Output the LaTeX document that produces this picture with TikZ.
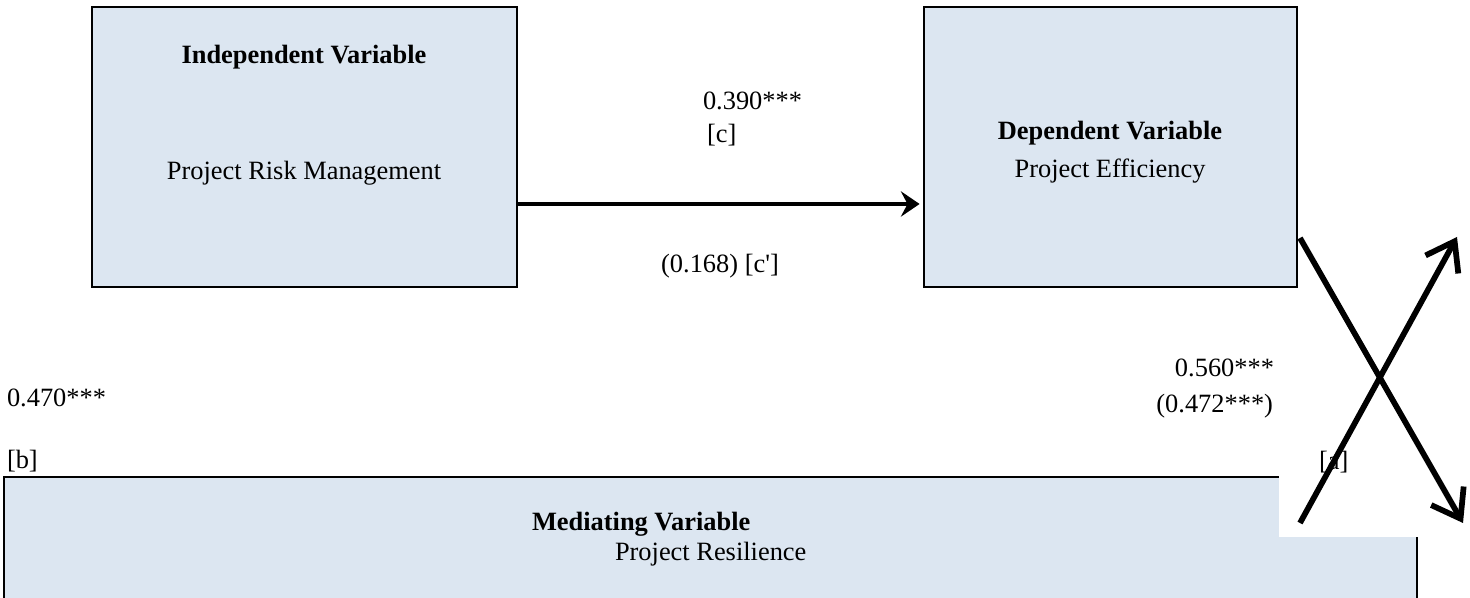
\documentclass[tikz,border=0pt]{standalone}
\usepackage{fontspec}
\setmainfont{Liberation Serif}
\usetikzlibrary{arrows.meta,fit}
\definecolor{boxblue}{RGB}{220,230,241}
\tikzset{
  box/.style={draw=black, fill=boxblue, line width=1pt, inner sep=0pt, rectangle},
  txt/.style={inner sep=0pt, outer sep=0pt, font=\fontsize{12pt}{14pt}\selectfont},
  mainarrow/.style={line width=1.9pt, -{Stealth[length=8.5pt,width=11.5pt,inset=3pt]}},
  crossarrow/.style={line width=2.6pt, -{Straight Barb[length=12pt,width=17pt]}}
}
\begin{document}
\begin{tikzpicture}[x=0.4545pt,y=-0.4545pt]
\useasboundingbox[fill=white] (0,0) rectangle (1470,598);
% boxes
\node[box, fit={(92,7) (517,287)}] (IV) {};
\node[box, fit={(924,7) (1297,287)}] (DV) {};
\node[box, fit={(4,477) (1417,640)}] (MV) {};
% white patch over mediating box corner
\node[fill=white, inner sep=0pt, fit={(1279,292) (1468,537)}] (patch) {};
% box texts
\node[txt, anchor=base] (ivt) at (304,64) {\textbf{Independent Variable}};
\node[txt, anchor=base] (ivs) at (304,180) {Project Risk Management};
\node[txt, anchor=base] (dvt) at (1110,140) {\textbf{Dependent Variable}};
\node[txt, anchor=base] (dvs) at (1110,178) {Project Efficiency};
\node[txt, anchor=base west] (mvt) at (532,531) {\textbf{Mediating Variable}};
\node[txt, anchor=base west] (mvs) at (615,561) {Project Resilience};
% labels
\node[txt, anchor=base west] (lc1) at (703,110) {0.390***};
\node[txt, anchor=base west] (lc2) at (707,143) {[c]};
\node[txt, anchor=base] (lc3) at (720,273) {(0.168) [c\textquotesingle]};
\node[txt, anchor=base east] (la1) at (1274,377) {0.560***};
\node[txt, anchor=base east] (la2) at (1273,413) {(0.472***)};
\node[txt, anchor=base west] (la3) at (1319,470) {[a]};
\node[txt, anchor=base west] (lb1) at (7,407) {0.470***};
\node[txt, anchor=base west] (lb2) at (7,469) {[b]};
% main arrow
\coordinate (ay) at (0,204);
\draw[mainarrow] (IV.east |- ay) -- ([xshift=-1.5pt]DV.west |- ay);
% crossing arrows
\coordinate (x1s) at (1300,238);
\coordinate (x1e) at (1463,523);
\coordinate (x2s) at (1300,523);
\coordinate (x2e) at (1457,237);
\draw[crossarrow] (x1s) -- (x1e);
\draw[crossarrow] (x2s) -- (x2e);
\end{tikzpicture}
\end{document}
